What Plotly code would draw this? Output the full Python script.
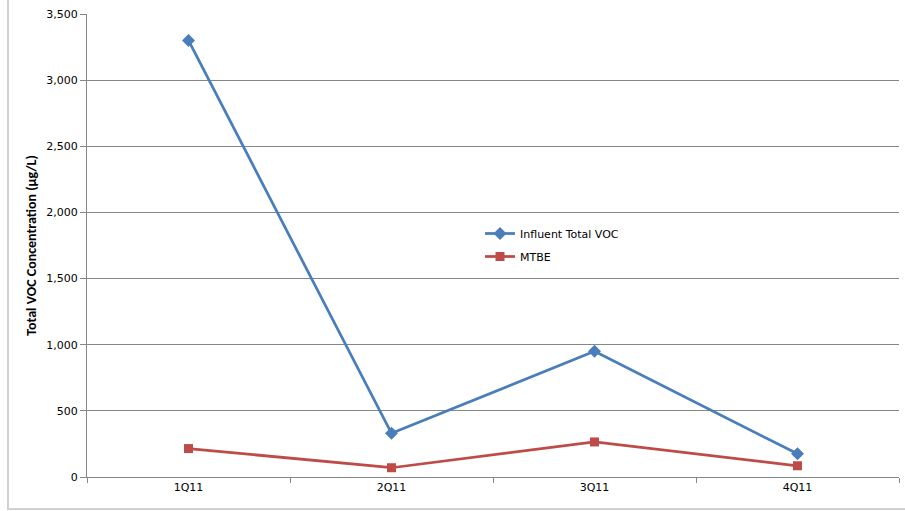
import plotly.graph_objects as go

# Quarterly sampling results
quarters = ["1Q11", "2Q11", "3Q11", "4Q11"]
influent_voc = [3300, 330, 950, 175]
mtbe = [215, 70, 265, 85]

y_ticks = [0, 500, 1000, 1500, 2000, 2500, 3000, 3500]

W, H = 905, 511
L, R, T, B = 87, 6, 14, 34
pw, ph = W - L - R, H - T - B

fig = go.Figure()
fig.add_trace(go.Scatter(
    x=quarters, y=influent_voc, name="Influent Total VOC",
    mode="lines+markers", legendgroup="voc",
    line=dict(color="#4A7EBB", width=2.75),
    marker=dict(symbol="diamond", size=10, color="#4A7EBB"),
))
fig.add_trace(go.Scatter(
    x=quarters, y=mtbe, name="MTBE",
    mode="lines+markers", legendgroup="mtbe",
    line=dict(color="#BE4B48", width=2.75),
    marker=dict(symbol="square", size=9, color="#BE4B48"),
))

body_font = "'DejaVu Sans', sans-serif"
title_font = "Carlito, Calibri, Lato, sans-serif"

fig.update_layout(
    width=W, height=H,
    margin=dict(l=L, r=R, t=T, b=B),
    paper_bgcolor="white", plot_bgcolor="white",
    font=dict(family=body_font, size=11, color="black"),
    legend=dict(
        x=(480 - L) / pw, y=(477 - 219) / ph, xanchor="left", yanchor="top",
        bgcolor="rgba(0,0,0,0)", font=dict(size=11),
        traceorder="grouped", tracegroupgap=4, itemwidth=30,
    ),
    xaxis=dict(
        type="category", tickson="boundaries", ticks="outside", ticklen=5,
        tickcolor="#868686", showline=True, linecolor="#868686",
        showgrid=False, range=[-0.5, 3.5], fixedrange=True,
    ),
    yaxis=dict(
        range=[0, 3500], tickvals=y_ticks, tickformat=",",
        ticks="outside", ticklen=6, tickcolor="#868686",
        showline=True, linecolor="#868686",
        showgrid=True, gridcolor="#868686", gridwidth=1,
        zeroline=False,
        title=dict(text="<b>Total VOC Concentration (µg/L)</b>", standoff=6,
                   font=dict(family=title_font, size=14)),
    ),
    showlegend=True,
)

# Outer chart border
fig.add_shape(
    type="rect", xref="paper", yref="paper",
    x0=(8 - L) / pw, x1=(W + 10 - L) / pw,
    y0=(477 - 509) / ph, y1=(477 + 20) / ph,
    line=dict(color="#D0D0D0", width=2), fillcolor="rgba(0,0,0,0)",
    layer="below",
)

fig.write_html("out.html")
